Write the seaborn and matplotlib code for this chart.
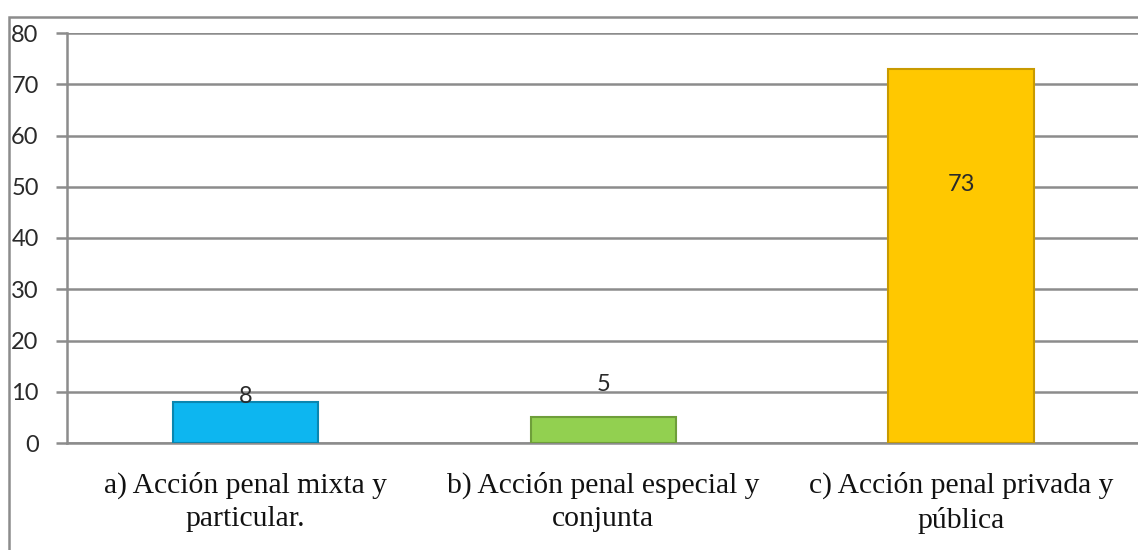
import matplotlib
matplotlib.use("Agg")
import matplotlib.pyplot as plt
import seaborn as sns
import pandas as pd
from matplotlib.patches import Rectangle

categories = ["a) Acción penal mixta y\nparticular.",
              "b) Acción penal especial y\nconjunta",
              "c) Acción penal privada y\npública"]
values = [8, 5, 73]
colors = ["#0DB6F0", "#92D050", "#FFC800"]
edge_colors = ["#0A86B0", "#6E9E3A", "#C89A00"]
yticks = [0, 10, 20, 30, 40, 50, 60, 70, 80]

sns.set_theme(style="white")
plt.rcParams['font.family'] = ['Lato', 'DejaVu Sans']

df = pd.DataFrame({"cat": categories, "val": values})

fig = plt.figure(figsize=(11.38, 5.5), dpi=100)
ax = fig.add_axes([66.5/1138, 1 - 443/550, (1140 - 66.5)/1138, (443 - 33)/550])

sns.barplot(data=df, x="cat", y="val", hue="cat", palette=colors, legend=False,
            width=0.406, ax=ax, saturation=1, zorder=3)
for p, ec in zip(ax.patches, edge_colors):
    p.set_edgecolor(ec)
    p.set_linewidth(1.5)

ax.set_xlim(-0.5, 2.5)
ax.set_ylim(0, 80)
ax.set_yticks(yticks)
ax.set_yticklabels([str(t) for t in yticks], fontsize=17, color="#2A2A2A", fontweight="normal")
ax.yaxis.grid(True, color="#8C8C8C", linewidth=1.8, zorder=0)
ax.set_axisbelow(True)
ax.tick_params(axis="y", length=8, width=1.8, color="#8C8C8C", pad=12, left=True)
ax.tick_params(axis="x", length=0, pad=21)
for lab in ax.get_xticklabels():
    lab.set_fontfamily("Liberation Serif")
    lab.set_fontsize(21.3)
    lab.set_color("#111111")
    lab.set_linespacing(1.35)
ax.set_xlabel("")
ax.set_ylabel("")
for s in ["top", "right"]:
    ax.spines[s].set_visible(False)
ax.spines["left"].set_color("#8C8C8C")
ax.spines["left"].set_linewidth(1.8)
ax.spines["bottom"].set_color("#8C8C8C")
ax.spines["bottom"].set_linewidth(1.8)

# data labels
lbl = dict(ha="center", va="center", fontsize=17, color="#2A2A2A", zorder=5, fontweight="normal")
ax.text(0, values[0] + 1.0, str(values[0]), **lbl)
ax.text(1, values[1] + 6.5, str(values[1]), **lbl)
ax.text(2, values[2] * 0.69, str(values[2]), **lbl)

# outer chart frame
fig.patches.append(Rectangle((9/1138, -0.1), 1.2, 1 - 17/550 + 0.1, transform=fig.transFigure,
                             fill=False, edgecolor="#8C8C8C", linewidth=1.8))

fig.savefig("out.png", dpi=100)
